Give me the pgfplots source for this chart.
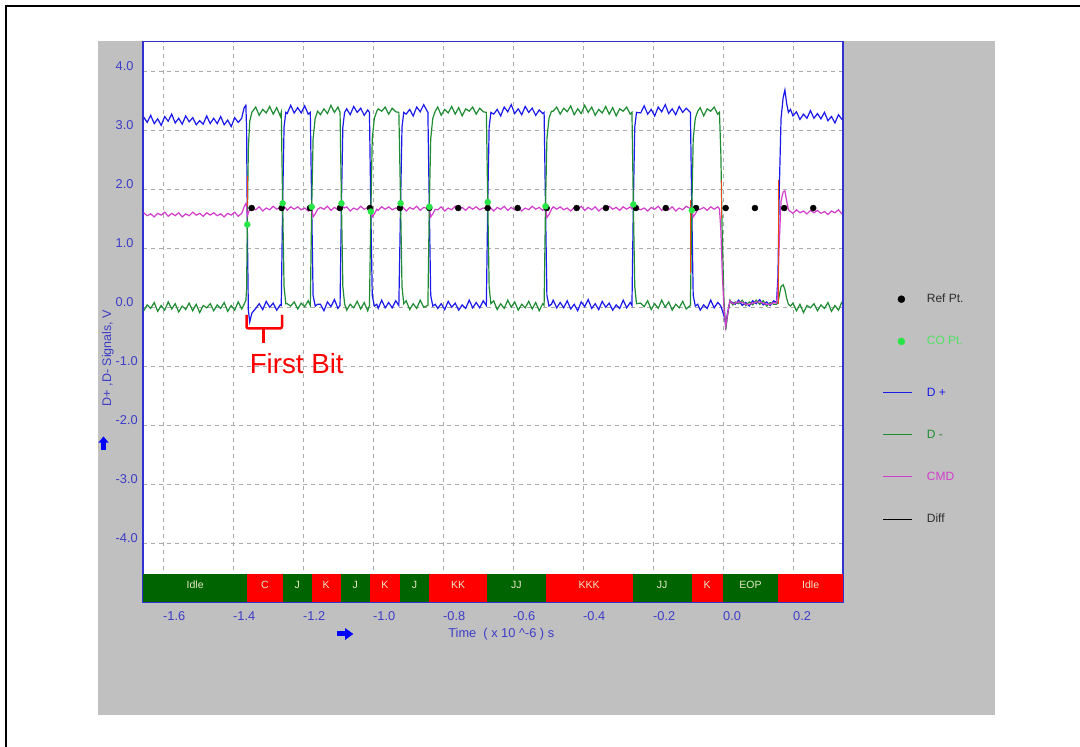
\documentclass[border=0pt]{standalone}
\usepackage{pgfplots}
\pgfplotsset{compat=1.18}
\usepackage{pgfplotstable}
\usepackage{fontspec}
\setmainfont{Liberation Sans}
\definecolor{dpblue}{RGB}{25,25,235}
\definecolor{dmgreen}{RGB}{30,140,50}
\definecolor{cmmag}{RGB}{210,60,205}
\definecolor{copt}{RGB}{40,230,70}
\definecolor{coptxt}{RGB}{80,225,100}
\definecolor{legdark}{RGB}{45,45,45}
\definecolor{tickblue}{RGB}{60,60,200}
\definecolor{axblue}{RGB}{50,50,210}
\definecolor{panelgray}{RGB}{192,192,192}
\definecolor{gridgray}{RGB}{170,170,170}
\definecolor{bargreen}{RGB}{0,100,0}
\definecolor{barred}{RGB}{255,0,0}
\definecolor{bartxt}{RGB}{232,232,200}
\definecolor{edgered}{RGB}{235,70,20}
\newcommand\fs[1]{\fontsize{#1}{#1}\selectfont}

\pgfplotstableread{
t dp dm cm
-1.655 3.22 -0.06 1.60
-1.645 3.13 0.04 1.55
-1.635 3.25 -0.02 1.58
-1.625 3.11 0.08 1.53
-1.615 3.19 -0.07 1.59
-1.605 3.08 0.03 1.56
-1.595 3.23 -0.05 1.61
-1.585 3.15 0.09 1.54
-1.575 3.27 -0.03 1.59
-1.565 3.12 0.06 1.55
-1.555 3.20 -0.08 1.60
-1.545 3.10 0.02 1.53
-1.535 3.24 -0.04 1.58
-1.525 3.14 0.07 1.55
-1.515 3.21 -0.06 1.61
-1.505 3.09 0.05 1.56
-1.495 3.16 -0.09 1.59
-1.485 3.10 0.03 1.54
-1.475 3.24 -0.01 1.60
-1.465 3.11 0.06 1.56
-1.455 3.20 -0.06 1.60
-1.445 3.11 0.04 1.55
-1.435 3.23 -0.02 1.58
-1.425 3.09 0.08 1.53
-1.415 3.17 -0.07 1.59
-1.405 3.06 0.03 1.56
-1.395 3.21 -0.05 1.61
-1.385 3.13 0.09 1.54
-1.375 3.20 -0.03 1.59
-1.368 3.38 0.05 1.70
-1.363 3.42 0.12 1.76
-1.361 3.00 0.30 1.70
-1.359 1.40 1.40 1.55
-1.356 -0.05 2.70 1.60
-1.352 -0.25 3.15 1.66
-1.346 -0.10 3.30 1.68
-1.335 -0.02 3.39 1.65
-1.325 0.06 3.25 1.70
-1.315 -0.04 3.35 1.63
-1.305 0.10 3.29 1.68
-1.295 0.00 3.40 1.65
-1.285 0.07 3.27 1.71
-1.275 -0.05 3.38 1.66
-1.265 0.04 3.24 1.69
-1.262 0.03 3.30 1.67
-1.258 1.76 1.76 1.74
-1.254 3.05 0.35 1.70
-1.249 3.30 0.06 1.68
-1.245 3.28 0.06 1.64
-1.235 3.42 0.02 1.70
-1.225 3.29 0.09 1.66
-1.215 3.38 -0.03 1.70
-1.205 3.29 0.07 1.65
-1.195 3.41 0.01 1.68
-1.185 3.27 0.11 1.63
-1.179 3.30 0.03 1.67
-1.175 1.70 1.70 1.70
-1.171 0.20 2.85 1.53
-1.165 0.02 3.20 1.58
-1.158 0.05 3.32 1.66
-1.150 0.05 3.26 1.69
-1.140 -0.06 3.36 1.66
-1.130 0.09 3.28 1.71
-1.120 0.01 3.42 1.64
-1.110 0.13 3.30 1.69
-1.100 -0.02 3.39 1.65
-1.094 0.03 3.30 1.67
-1.090 1.76 1.76 1.74
-1.086 3.05 0.35 1.70
-1.081 3.30 0.06 1.68
-1.075 3.36 -0.05 1.70
-1.065 3.26 0.05 1.63
-1.055 3.40 -0.01 1.68
-1.045 3.30 0.10 1.65
-1.035 3.37 -0.03 1.71
-1.025 3.25 0.08 1.66
-1.015 3.34 -0.06 1.69
-1.010 3.30 0.03 1.67
-1.006 1.62 1.62 1.70
-1.002 0.20 2.85 1.53
-0.996 0.02 3.20 1.58
-0.989 0.05 3.32 1.66
-0.985 -0.02 3.36 1.64
-0.975 0.12 3.32 1.70
-0.965 -0.01 3.39 1.66
-0.955 0.08 3.27 1.70
-0.945 -0.01 3.37 1.65
-0.935 0.11 3.31 1.68
-0.926 0.03 3.30 1.67
-0.921 1.76 1.76 1.74
-0.917 3.05 0.35 1.70
-0.912 3.30 0.06 1.68
-0.905 3.27 0.11 1.63
-0.895 3.35 -0.04 1.69
-0.885 3.24 0.06 1.66
-0.875 3.39 -0.02 1.71
-0.865 3.31 0.12 1.64
-0.855 3.43 0.00 1.69
-0.843 3.30 0.03 1.67
-0.839 1.70 1.70 1.70
-0.835 0.20 2.85 1.53
-0.829 0.02 3.20 1.58
-0.822 0.05 3.32 1.66
-0.815 -0.02 3.39 1.65
-0.805 0.06 3.25 1.70
-0.795 -0.04 3.35 1.63
-0.785 0.10 3.29 1.68
-0.775 0.00 3.40 1.65
-0.765 0.07 3.27 1.71
-0.755 -0.05 3.38 1.66
-0.745 0.04 3.24 1.69
-0.735 -0.02 3.36 1.64
-0.725 0.12 3.32 1.70
-0.715 -0.01 3.39 1.66
-0.705 0.08 3.27 1.70
-0.695 -0.01 3.37 1.65
-0.685 0.11 3.31 1.68
-0.676 0.03 3.30 1.67
-0.672 1.78 1.78 1.76
-0.668 3.05 0.35 1.70
-0.663 3.30 0.06 1.68
-0.655 3.27 0.11 1.63
-0.645 3.35 -0.04 1.69
-0.635 3.24 0.06 1.66
-0.625 3.39 -0.02 1.71
-0.615 3.31 0.12 1.64
-0.605 3.43 0.00 1.69
-0.595 3.28 0.09 1.65
-0.585 3.36 -0.05 1.70
-0.575 3.26 0.05 1.63
-0.565 3.40 -0.01 1.68
-0.555 3.30 0.10 1.65
-0.545 3.37 -0.03 1.71
-0.535 3.25 0.08 1.66
-0.525 3.34 -0.06 1.69
-0.515 3.28 0.06 1.64
-0.511 3.30 0.03 1.67
-0.507 1.71 1.71 1.70
-0.503 0.20 2.85 1.52
-0.497 0.02 3.20 1.57
-0.490 0.05 3.32 1.66
-0.485 0.12 3.32 1.70
-0.475 -0.01 3.39 1.66
-0.465 0.08 3.27 1.70
-0.455 -0.01 3.37 1.65
-0.445 0.11 3.31 1.68
-0.435 -0.03 3.41 1.63
-0.425 0.05 3.26 1.69
-0.415 -0.06 3.36 1.66
-0.405 0.09 3.28 1.71
-0.395 0.01 3.42 1.64
-0.385 0.13 3.30 1.69
-0.375 -0.02 3.39 1.65
-0.365 0.06 3.25 1.70
-0.355 -0.04 3.35 1.63
-0.345 0.10 3.29 1.68
-0.335 0.00 3.40 1.65
-0.325 0.07 3.27 1.71
-0.315 -0.05 3.38 1.66
-0.305 0.04 3.24 1.69
-0.295 -0.02 3.36 1.64
-0.285 0.12 3.32 1.70
-0.275 -0.01 3.39 1.66
-0.265 0.08 3.27 1.70
-0.260 0.03 3.30 1.67
-0.256 1.74 1.74 1.74
-0.252 3.05 0.35 1.70
-0.247 3.30 0.06 1.68
-0.235 3.29 0.07 1.65
-0.225 3.41 0.01 1.68
-0.215 3.27 0.11 1.63
-0.205 3.35 -0.04 1.69
-0.195 3.24 0.06 1.66
-0.185 3.39 -0.02 1.71
-0.175 3.31 0.12 1.64
-0.165 3.43 0.00 1.69
-0.155 3.28 0.09 1.65
-0.145 3.36 -0.05 1.70
-0.135 3.26 0.05 1.63
-0.125 3.40 -0.01 1.68
-0.115 3.30 0.10 1.65
-0.105 3.37 -0.03 1.71
-0.093 3.30 0.03 1.67
-0.089 1.64 1.64 1.68
-0.085 0.20 2.85 1.53
-0.079 0.02 3.20 1.58
-0.072 0.05 3.32 1.66
-0.065 -0.05 3.38 1.66
-0.055 0.04 3.24 1.69
-0.045 -0.02 3.36 1.64
-0.035 0.12 3.32 1.70
-0.025 -0.01 3.39 1.66
-0.015 0.08 3.27 1.70
-0.010 0.05 3.30 1.67
-0.006 0.02 2.60 1.30
-0.002 -0.05 1.20 0.58
0.003 -0.15 0.10 -0.03
0.008 -0.28 -0.38 -0.33
0.013 -0.10 -0.15 -0.12
0.020 0.10 0.12 0.11
0.028 0.08 0.04 0.06
0.035 0.05 0.09 0.07
0.045 0.12 0.06 0.09
0.055 0.03 0.12 0.08
0.065 0.08 0.03 0.05
0.075 0.02 0.09 0.05
0.085 0.11 0.04 0.07
0.095 0.06 0.12 0.09
0.105 0.13 0.05 0.09
0.115 0.04 0.11 0.07
0.125 0.09 0.02 0.05
0.135 0.03 0.08 0.05
0.145 0.11 0.05 0.08
0.153 0.08 0.05 0.07
0.157 0.50 0.08 0.30
0.161 2.00 0.20 1.10
0.166 3.20 0.35 1.80
0.172 3.55 0.38 1.95
0.177 3.68 0.30 1.97
0.182 3.45 0.15 1.80
0.187 3.30 0.05 1.65
0.193 3.35 0.02 1.62
0.200 3.24 0.07 1.59
0.210 3.31 -0.06 1.65
0.220 3.18 0.05 1.60
0.230 3.27 -0.09 1.63
0.240 3.20 0.03 1.58
0.250 3.33 -0.01 1.64
0.260 3.20 0.06 1.60
0.270 3.28 -0.06 1.64
0.280 3.19 0.04 1.59
0.290 3.30 -0.02 1.62
0.300 3.16 0.08 1.57
0.310 3.23 -0.07 1.63
0.320 3.12 0.03 1.60
0.330 3.26 -0.05 1.65
0.340 3.18 0.09 1.58
}\sig

\begin{document}
\begin{tikzpicture}[x=1pt,y=1pt]
\path[use as bounding box] (0,0) rectangle (1080,747);
\fill[white] (0,0) rectangle (1080,747);
\fill[panelgray] (97.7,32) rectangle (995,706);
\draw[line width=2pt,black] (5.8,0) -- (5.8,741.2) -- (1080,741.2);

\begin{axis}[
  at={(143pt,144.5pt)}, anchor=south west,
  scale only axis, width=700pt, height=561pt,
  xmin=-1.657, xmax=0.343, ymin=-5, ymax=4.5,
  xtick={-1.6,-1.4,-1.2,-1.0,-0.8,-0.6,-0.4,-0.2,0,0.2},
  xticklabels={-1.6,-1.4,-1.2,-1.0,-0.8,-0.6,-0.4,-0.2,0.0,0.2},
  ytick={-4,-3,-2,-1,0,1,2,3,4},
  yticklabels={-4.0,-3.0,-2.0,-1.0,0.0,1.0,2.0,3.0,4.0},
  major tick length=0pt,
  grid=major,
  major grid style={draw=gridgray, dash pattern=on 4pt off 4pt, line width=0.9pt},
  axis line style={draw=axblue, line width=1.2pt},
  axis background/.style={fill=white},
  tick label style={font=\fs{12.8}, text=tickblue, inner sep=0pt},
  xticklabel style={anchor=base west, yshift=-18.5pt},
  yticklabel style={anchor=base west, xshift=-27.5pt, yshift=1pt},
  legend style={at={(axis description cs:1.0567,0.5501)}, anchor=north west,
    draw=none, fill=none, inner sep=0pt, row sep=32.2pt, column sep=14pt,
    font=\fs{12}, nodes={inner sep=0pt}},
  legend cell align=left,
]
% state bar
\addplot[fill=bargreen, draw=none, forget plot] coordinates {(-1.657,-5) (-1.657,-4.515) (-1.359,-4.515) (-1.359,-5)};
\addplot[fill=barred, draw=none, forget plot] coordinates {(-1.359,-5) (-1.359,-4.515) (-1.258,-4.515) (-1.258,-5)};
\addplot[fill=bargreen, draw=none, forget plot] coordinates {(-1.258,-5) (-1.258,-4.515) (-1.175,-4.515) (-1.175,-5)};
\addplot[fill=barred, draw=none, forget plot] coordinates {(-1.175,-5) (-1.175,-4.515) (-1.092,-4.515) (-1.092,-5)};
\addplot[fill=bargreen, draw=none, forget plot] coordinates {(-1.092,-5) (-1.092,-4.515) (-1.009,-4.515) (-1.009,-5)};
\addplot[fill=barred, draw=none, forget plot] coordinates {(-1.009,-5) (-1.009,-4.515) (-0.923,-4.515) (-0.923,-5)};
\addplot[fill=bargreen, draw=none, forget plot] coordinates {(-0.923,-5) (-0.923,-4.515) (-0.840,-4.515) (-0.840,-5)};
\addplot[fill=barred, draw=none, forget plot] coordinates {(-0.840,-5) (-0.840,-4.515) (-0.673,-4.515) (-0.673,-5)};
\addplot[fill=bargreen, draw=none, forget plot] coordinates {(-0.673,-5) (-0.673,-4.515) (-0.507,-4.515) (-0.507,-5)};
\addplot[fill=barred, draw=none, forget plot] coordinates {(-0.507,-5) (-0.507,-4.515) (-0.258,-4.515) (-0.258,-5)};
\addplot[fill=bargreen, draw=none, forget plot] coordinates {(-0.258,-5) (-0.258,-4.515) (-0.089,-4.515) (-0.089,-5)};
\addplot[fill=barred, draw=none, forget plot] coordinates {(-0.089,-5) (-0.089,-4.515) (-0.001,-4.515) (-0.001,-5)};
\addplot[fill=bargreen, draw=none, forget plot] coordinates {(-0.001,-5) (-0.001,-4.515) (0.158,-4.515) (0.158,-5)};
\addplot[fill=barred, draw=none, forget plot] coordinates {(0.158,-5) (0.158,-4.515) (0.343,-4.515) (0.343,-5)};
\begin{scope}[every node/.style={font=\fs{10.5}, text=bartxt, inner sep=0pt}]
\node at (axis cs:-1.508,-4.70) {Idle};
\node at (axis cs:-1.3085,-4.70) {C};
\node at (axis cs:-1.2165,-4.70) {J};
\node at (axis cs:-1.1335,-4.70) {K};
\node at (axis cs:-1.0505,-4.70) {J};
\node at (axis cs:-0.966,-4.70) {K};
\node at (axis cs:-0.8815,-4.70) {J};
\node at (axis cs:-0.7565,-4.70) {KK};
\node at (axis cs:-0.59,-4.70) {JJ};
\node at (axis cs:-0.3825,-4.70) {KKK};
\node at (axis cs:-0.1735,-4.70) {JJ};
\node at (axis cs:-0.045,-4.70) {K};
\node at (axis cs:0.0785,-4.70) {EOP};
\node at (axis cs:0.2505,-4.70) {Idle};
\end{scope}

% signals
\addplot[dpblue, line width=1.2pt, forget plot] table[x=t, y=dp] {\sig};
\addplot[dmgreen, line width=1.2pt, forget plot] table[x=t, y=dm] {\sig};
\addplot[cmmag, line width=1.2pt, forget plot] table[x=t, y=cm] {\sig};
\addplot[edgered, line width=1pt, forget plot] coordinates {(-1.359,2.22) (-1.359,1.71)};
\addplot[edgered, line width=1pt, forget plot] coordinates {(-0.0914,1.82) (-0.0914,0.58)};
\addplot[edgered, line width=1pt, forget plot] coordinates {(-0.004,2.16) (-0.004,1.49)};
\addplot[edgered, line width=1pt, forget plot] coordinates {(0.1586,2.16) (0.1586,0.05)};
% reference points
\addplot[only marks, mark=*, mark size=3pt, black, forget plot] coordinates {
(-1.3466,1.68) (-1.2609,1.68) (-1.18,1.68) (-1.0943,1.68) (-1.0086,1.68)
(-0.9229,1.68) (-0.8391,1.68) (-0.7563,1.68) (-0.6723,1.68) (-0.5866,1.68)
(-0.5037,1.68) (-0.4180,1.68) (-0.3343,1.68) (-0.2486,1.68) (-0.1634,1.68)
(-0.0771,1.68) (0.0077,1.68) (0.0914,1.68) (0.1751,1.68) (0.2580,1.68)};
% crossover points
\addplot[only marks, mark=*, mark size=3pt, copt, forget plot] coordinates {
(-1.359,1.40) (-1.258,1.76) (-1.175,1.70) (-1.090,1.76) (-1.006,1.62)
(-0.921,1.76) (-0.839,1.70) (-0.672,1.78) (-0.507,1.71) (-0.256,1.74) (-0.089,1.64)};

% legend
\addlegendimage{legend image code/.code={\fill[black] (18pt,0pt) circle (3.5pt); \path (0pt,0pt) (29pt,0pt);}}
\addlegendentry{\textcolor{legdark}{Ref Pt.}}
\addlegendimage{legend image code/.code={\fill[copt] (18pt,0pt) circle (3.5pt); \path (0pt,0pt) (29pt,0pt);}}
\addlegendentry{\textcolor{coptxt}{CO Pt.}}
\addlegendimage{legend image code/.code={\draw[dpblue, line width=1pt] (0pt,0pt) -- (29pt,0pt); \path (0pt,14.2pt);}}
\addlegendentry{\textcolor{dpblue}{D +}}
\addlegendimage{legend image code/.code={\draw[dmgreen, line width=1pt] (0pt,0pt) -- (29pt,0pt);}}
\addlegendentry{\textcolor{dmgreen}{D -}}
\addlegendimage{legend image code/.code={\draw[cmmag, line width=1pt] (0pt,0pt) -- (29pt,0pt);}}
\addlegendentry{\textcolor{cmmag}{CMD}}
\addlegendimage{legend image code/.code={\draw[black, line width=1pt] (0pt,0pt) -- (29pt,0pt);}}
\addlegendentry{\textcolor{legdark}{Diff}}
\end{axis}

% axis titles and arrows
\node[font=\fs{12.8}, text=tickblue, inner sep=0pt] at (501.3,113) {Time\ \ ( x 10 \textasciicircum-6 ) s};
\fill[blue] (337,110.5) rectangle (346,115.5);
\fill[blue] (345,119) -- (353.3,113) -- (345,107) -- cycle;
\node[font=\fs{12.5}, text=tickblue, inner sep=0pt, rotate=90] at (108,389) {D+ ,D- Signals, V};
\fill[blue] (101,297) rectangle (106,305);
\fill[blue] (98.3,304.3) -- (103.5,310.5) -- (108.7,304.3) -- cycle;

% annotation
\draw[red, line width=2.5pt, rounded corners=2pt] (246.5,432) -- (246.5,418.5) -- (282,418.5) -- (282,432);
\draw[red, line width=2.5pt] (263.7,418.5) -- (263.7,404.3);
\node[font=\fs{27.7}, text=red, inner sep=0pt, anchor=base] at (296.7,373) {First Bit};
\end{tikzpicture}
\end{document}
